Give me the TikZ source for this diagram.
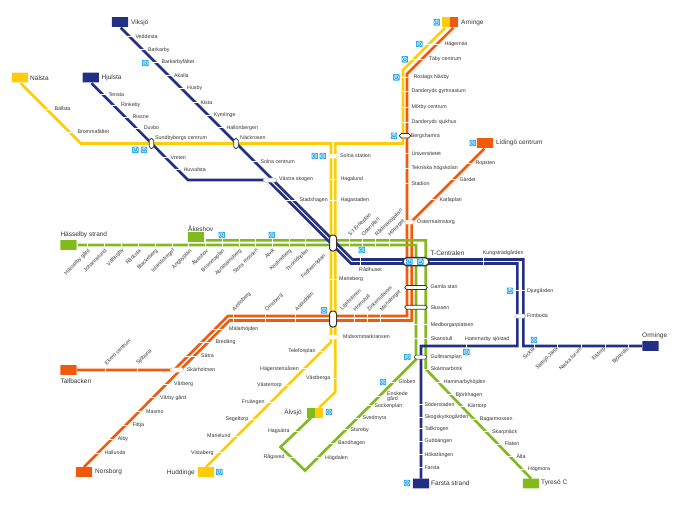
\documentclass[tikz,border=0pt]{standalone}
\usepackage{fontspec}
\setmainfont{Liberation Sans}

\definecolor{metroblue}{HTML}{232F84}
\definecolor{metroyellow}{HTML}{FFCC0A}
\definecolor{metroorange}{HTML}{EF5A0C}
\definecolor{metrogreen}{HTML}{82BA1E}
\definecolor{iconblue}{HTML}{2DA9EC}
\definecolor{labgray}{HTML}{333333}

\tikzset{
  metro/.style={line width=2.6,line join=miter,shorten <=1pt},
  tick/.style={draw=white,line width=1},
  lab/.style={anchor=west,inner sep=0,text=labgray,font=\fontsize{5.3}{5.5}\selectfont},
  labl/.style={lab,anchor=east},
  rotup/.style={lab,rotate=45},
  rotdown/.style={lab,rotate=45,anchor=north east},
  termlab/.style={lab,font=\fontsize{6.5}{7}\selectfont},
  term/.style={inner sep=0,minimum width=16.3,minimum height=9.6,rounded corners=.4},
  halfterm/.style={inner sep=0,minimum width=8.15,minimum height=9.6},
  hub/.style={draw=labgray,fill=white,inner sep=0,line width=.7,rounded corners=1.9},
  halo/.style={draw=#1!35!white,fill=white,inner sep=0,line width=.5,rounded corners=1.9},
  pendel/.style={fill=iconblue,text=white,inner sep=0,minimum size=6.4,rounded corners=.5,
    font=\fontsize{3.4}{3.4}\selectfont\bfseries,
    path picture={\draw[white,line width=.4] (path picture bounding box.center) circle (2.3);}}
}

\begin{document}
\begin{tikzpicture}[x=1pt,y=-1pt]
  \useasboundingbox (0,0) rectangle (700,504);

  % end stations
  \node[term,fill=metroblue] (viksjo) at (120,22) {};
  \node[term,fill=metroblue] (hjulsta) at (90.8,77.5) {};
  \node[term,fill=metroyellow] (nalsta) at (20,77.5) {};
  \node[halfterm,fill=metroyellow] (arningey) at (446,22) {};
  \node[halfterm,fill=metroorange] (arningeo) at (454.1,22) {};
  \node[term,fill=metroorange] (lidingo) at (485,143) {};
  \node[term,fill=metrogreen] (hasselby) at (68.5,245) {};
  \node[term,fill=metrogreen] (akeshovend) at (196,237) {};
  \node[term,fill=metroorange] (tallbacken) at (68.5,370) {};
  \node[term,fill=metroorange] (norsborg) at (84,472) {};
  \node[term,fill=metroyellow] (huddinge) at (206,472) {};
  \node[halfterm,fill=metrogreen] (alvsjog) at (311,412.7) {};
  \node[halfterm,fill=metroyellow] (alvsjoy) at (319.1,412.7) {};
  \node[term,fill=metroblue] (farstastrand) at (421,483.5) {};
  \node[term,fill=metrogreen] (tyreso) at (531,483.5) {};
  \node[term,fill=metroblue] (orminge) at (650.5,346) {};

  % bends
  \coordinate (nalstabend) at (81,143.5);
  \coordinate (solnay) at (331,143.5);
  \coordinate (hornsy) at (331,342);
  \coordinate (arningeybend) at (403,70);
  \coordinate (bergsy) at (403,143.5);
  \coordinate (solnaz) at (335.3,143.5);
  \coordinate (vastbergaz) at (335.3,392);
  \coordinate (arningeobend) at (407,74);
  \coordinate (orangea) at (407,316);
  \coordinate (orangeb) at (228,316);
  \coordinate (orangec) at (174,370);
  \coordinate (lidingobend) at (411.7,221.3);
  \coordinate (oranged) at (411.7,320.5);
  \coordinate (orangee) at (229.5,320.5);
  \coordinate (greena) at (416,245);
  \coordinate (greenb) at (416,359.5);
  \coordinate (greenc) at (305,470.5);
  \coordinate (greend) at (280.5,447);
  \coordinate (greene) at (425.7,240.3);
  \coordinate (greenf) at (425.7,369);
  \coordinate (bluea) at (352.5,259.5);
  \coordinate (blueb) at (523.3,259.5);
  \coordinate (bluec) at (523.3,346);
  \coordinate (bluee) at (188,180);
  \coordinate (bluef) at (267.4,180);
  \coordinate (blueg) at (351,263.5);
  \coordinate (blueh) at (517.3,263.5);
  \coordinate (bluei) at (517.3,346);
  \coordinate (bluej) at (421,346);

  % lines
  \draw[metro,metroyellow] (nalsta.south) -- (nalstabend) -- (solnay) -- (hornsy) -- (huddinge.north);
  \draw[metro,metroyellow] (arningey.south) -- (arningeybend) -- (bergsy) -- (solnaz) -- (vastbergaz) -- (alvsjoy.north);
  \draw[metro,metroorange] (arningeo.south) -- (arningeobend) -- (orangea) -- (orangeb) -- (orangec) -- (tallbacken.east);
  \draw[metro,metroorange] (lidingo.south) -- (lidingobend) -- (oranged) -- (orangee) -- (norsborg.north);
  \draw[metro,metrogreen] (hasselby.east) -- (greena) -- (greenb) -- (greenc) -- (greend) -- (alvsjog.south);
  \draw[metro,metrogreen] (akeshovend.east |- greene) -- (greene) -- (greenf) -- (tyreso.north);
  \draw[metro,metroblue] (viksjo.south) -- (bluea) -- (blueb) -- (bluec) -- (orminge.west);
  \draw[metro,metroblue] (hjulsta.south) -- (bluee) -- (bluef) -- (blueg) -- (blueh) -- (bluei) -- (bluej) -- (farstastrand.north);

  % blue line, north
  \draw[tick] (127,36.7) -- (135,36.7) node[lab] (veddesta) {Veddesta};
  \draw[tick] (140,49.7) -- (147.7,49.7) node[lab] (barkarby) {Barkarby};
  \draw[tick] (152.5,62.3) -- (161,62.3) node[lab] (barkarbyfaltet) {Barkarbyfältet};
  \draw[tick] (166,75.7) -- (173.7,75.7) node[lab] (akalla) {Akalla};
  \draw[tick] (178.5,88.3) -- (186.7,88.3) node[lab] (husby) {Husby};
  \draw[tick] (192.5,102.3) -- (200,102.3) node[lab] (kista) {Kista};
  \draw[tick] (205,115) -- (213.3,115) node[lab] (kymlinge) {Kymlinge};
  \draw[tick] (218,127.7) -- (226,127.7) node[lab] (hallonbergen) {Hallonbergen};
  \draw[tick] (99.5,94.3) -- (108,94.3) node[lab] (tensta) {Tensta};
  \draw[tick] (110.5,105.3) -- (120.7,105.3) node[lab] (rinkeby) {Rinkeby};
  \draw[tick] (122,117) -- (132,117) node[lab] (rissne) {Rissne};
  \draw[tick] (133,128) -- (143.3,128) node[lab] (duvbo) {Duvbo};
  \draw[tick] (162.5,157.3) -- (170,157.3) node[lab] (vreten) {Vreten};
  \draw[tick] (174.5,169.3) -- (183,169.3) node[lab] (huvudsta) {Huvudsta};
  \draw[tick] (251.5,161.3) -- (260,161.3) node[lab] (solnacentrum) {Solna centrum};
  \draw[tick] (284.5,200) -- (299,200) node[lab] (stadshagen) {Stadshagen};
  \draw[tick] (360,257) -- (360,266);
  \node[lab] (radhuset) at (359,269.5) {Rådhuset};
  \draw[tick] (483,257) -- (483,266);
  \node[lab] (kungstradgarden) at (482.7,253.3) {Kungsträdgården};
  \draw[tick] (514,290.7) -- (526.5,290.7) node[lab] (djurgarden) {Djurgården};

  % blue line, east and south
  \draw[tick] (466,342) -- (466,350);
  \node[lab] (hammarby) at (465,338.7) {Hammarby sjöstad};
  \draw[tick] (534,342) -- (534,348) node[rotdown,anchor=east] (sickla) {Sickla};
  \draw[tick] (557.7,342) -- (557.7,348) node[rotdown,anchor=east] (saltsjo) {Saltsjö-Järla};
  \draw[tick] (581.3,342) -- (581.3,348) node[rotdown,anchor=east] (nacka) {Nacka forum};
  \draw[tick] (605,342) -- (605,348) node[rotdown,anchor=east] (eiktorp) {Eiktorp};
  \draw[tick] (628.3,342) -- (628.3,348) node[rotdown,anchor=east] (bjorknas) {Björknäs};
  \draw[tick] (418,404.3) -- (424,404.3) node[lab] (soderstaden) {Söderstaden};
  \draw[tick] (418,417) -- (424,417) node[lab] (skogskyrkogarden) {Skogskyrkogården};
  \draw[tick] (418,428.7) -- (424,428.7) node[lab] (tallkrogen) {Tallkrogen};
  \draw[tick] (418,441.3) -- (424,441.3) node[lab] (gubbangen) {Gubbängen};
  \draw[tick] (418,454.7) -- (424,454.7) node[lab] (hokarangen) {Hökarängen};
  \draw[tick] (418,467.3) -- (424,467.3) node[lab] (farsta) {Farsta};

  % yellow lines
  \draw[tick] (44,109) -- (54,109) node[lab] (ballsta) {Bällsta};
  \draw[tick] (67,132) -- (77,132) node[lab] (brommafaltet) {Brommafältet};
  \draw[tick] (328,179) -- (340,179) node[lab] (hagalund) {Hagalund};
  \draw[tick] (328,200.3) -- (340,200.3) node[lab] (hagastaden) {Hagastaden};
  \draw[tick] (328,279) -- (338.7,279) node[lab] (marieberg) {Marieberg};
  \draw[tick] (425,44) -- (444,44) node[lab] (hagernas) {Hägernäs};
  \draw[tick] (410,59.3) -- (428.3,59.3) node[lab] (taby) {Täby centrum};
  \draw[tick] (400,77.3) -- (413,77.3) node[lab] (roslags) {Roslags Näsby};
  \draw[tick] (400,91.3) -- (411,91.3) node[lab] (gymnasium) {Danderyds gymnasium};
  \draw[tick] (400,107) -- (411,107) node[lab] (morby) {Mörby centrum};
  \draw[tick] (400,122) -- (411,122) node[lab] (sjukhus) {Danderyds sjukhus};
  \draw[tick] (325,351.3) -- (316,351.3) node[labl] (telefonplan) {Telefonplan};
  \draw[tick] (307.5,368.7) -- (299.3,368.7) node[labl] (hagerstensasen) {Hägerstensåsen};
  \draw[tick] (290.5,385.7) -- (282,385.7) node[labl] (vastertorp) {Västertorp};
  \draw[tick] (274,402.3) -- (265,402.3) node[labl] (fruangen) {Fruängen};
  \draw[tick] (257,419.3) -- (248.7,419.3) node[labl] (segeltorp) {Segeltorp};
  \draw[tick] (240,436) -- (231,436) node[labl] (marielund) {Marielund};
  \draw[tick] (223.5,452.7) -- (214,452.7) node[labl] (vistaberg) {Vistaberg};
  \draw[tick] (339,378.3) -- (330.7,378.3) node[labl] (vastberga) {Västberga};

  % orange lines
  \draw[tick] (404.5,153.3) -- (411,153.3) node[lab] (universitetet) {Universitetet};
  \draw[tick] (404.5,168.3) -- (411,168.3) node[lab] (tekniska) {Tekniska högskolan};
  \draw[tick] (404.5,183.3) -- (411,183.3) node[lab] (stadion) {Stadion};
  \draw[tick] (466,163.7) -- (475,163.7) node[lab] (ropsten) {Ropsten};
  \draw[tick] (450.5,179.3) -- (459,179.3) node[lab] (gardet) {Gärdet};
  \draw[tick] (430,199.7) -- (439,199.7) node[lab] (karlaplan) {Karlaplan};
  \draw[tick] (233,323.5) -- (233,310.5) node[rotup] (axelsberg) {Axelsberg};
  \draw[tick] (265.7,323.5) -- (265.7,310.5) node[rotup] (ornsberg) {Örnsberg};
  \draw[tick] (295.7,323.5) -- (295.7,310.5) node[rotup] (aspudden) {Aspudden};
  \draw[tick] (354,323.5) -- (354,310.5) node[rotup] (hornstull) {Hornstull};
  \draw[tick] (367.3,323.5) -- (367.3,310.5) node[rotup] (zinkensdamm) {Zinkensdamm};
  \draw[tick] (380.7,323.5) -- (380.7,310.5) node[rotup] (mariatorget) {Mariatorget};
  \draw[tick] (212,329) -- (228.7,329) node[lab] (malarhojden) {Mälarhöjden};
  \draw[tick] (198.5,342.3) -- (215,342.3) node[lab] (bredang) {Bredäng};
  \draw[tick] (185,356) -- (200.7,356) node[lab] (satra) {Sätra};
  \draw[tick] (163,384) -- (173.7,384) node[lab] (varberg) {Vårberg};
  \draw[tick] (149.5,397.7) -- (159.7,397.7) node[lab] (varby) {Vårby gård};
  \draw[tick] (135.5,411.3) -- (145.7,411.3) node[lab] (masmo) {Masmo};
  \draw[tick] (121.5,425.3) -- (132,425.3) node[lab] (fittja) {Fittja};
  \draw[tick] (108,439) -- (117.3,439) node[lab] (alby) {Alby};
  \draw[tick] (94,453) -- (104,453) node[lab] (hallunda) {Hallunda};
  \draw[tick] (105.3,373) -- (105.3,364.3) node[rotup] (ekero) {Ekerö centrum};
  \draw[tick] (137,373) -- (137,364.3) node[rotup] (sjobuna) {Sjöbuna};

  % green lines, west
  \draw[tick] (87.3,242) -- (87.3,247.5) node[rotdown] (hasselbygard) {Hässelby gård};
  \draw[tick] (104.3,242) -- (104.3,247.5) node[rotdown] (johannelund) {Johannelund};
  \draw[tick] (121.3,242) -- (121.3,247.5) node[rotdown] (vallingby) {Vällingby};
  \draw[tick] (138.3,242) -- (138.3,247.5) node[rotdown] (racksta) {Råcksta};
  \draw[tick] (155.3,242) -- (155.3,247.5) node[rotdown] (blackeberg) {Blackeberg};
  \draw[tick] (172,242) -- (172,247.5) node[rotdown] (islandstorget) {Islandstorget};
  \draw[tick] (188.7,242.5) -- (188.7,247.5) node[rotdown] (angbyplan) {Ängbyplan};
  \draw[tick] (205.3,238) -- (205.3,247.5) node[rotdown] (akeshovst) {Åkeshov};
  \draw[tick] (222,238) -- (222,247.5) node[rotdown] (brommaplan) {Brommaplan};
  \draw[tick] (239,238) -- (239,247.5) node[rotdown] (abrahamsberg) {Abrahamsberg};
  \draw[tick] (255.7,238) -- (255.7,247.5) node[rotdown] (storamossen) {Stora mossen};
  \draw[tick] (272.3,238) -- (272.3,247.5) node[rotdown] (alvik) {Alvik};
  \draw[tick] (289,238) -- (289,247.5) node[rotdown] (kristineberg) {Kristineberg};
  \draw[tick] (305.7,238) -- (305.7,247.5) node[rotdown] (thorildsplan) {Thorildsplan};
  \node[rotdown] (fridhemsplanlab) at (323,253) {Fridhemsplan};
  \draw[tick] (349,247.5) -- (349,235.5) node[rotup] (steriksplan) {S:t Eriksplan};
  \draw[tick] (362.3,247.5) -- (362.3,235.5) node[rotup] (odenplan) {Odenplan};
  \draw[tick] (375.7,247.5) -- (375.7,235.5) node[rotup] (radmansgatan) {Rådmansgatan};
  \draw[tick] (389,247.5) -- (389,235.5) node[rotup] (hotorget) {Hötorget};

  % green lines, south
  \draw[tick] (413.5,324.7) -- (430.3,324.7) node[lab] (medborgarplatsen) {Medborgarplatsen};
  \draw[tick] (413.5,338.3) -- (430.3,338.3) node[lab] (skanstull) {Skanstull};
  \draw[tick] (423,369) -- (430.3,369) node[lab] (skarmarbrink) {Skärmarbrink};
  \draw[tick] (435,382) -- (443.3,382) node[lab] (hammarbyhojden) {Hammarbyhöjden};
  \draw[tick] (447,394.7) -- (455,394.7) node[lab] (bjorkhagen) {Björkhagen};
  \draw[tick] (459,406.7) -- (467,406.7) node[lab] (karrtorp) {Kärrtorp};
  \draw[tick] (471,419.3) -- (479.3,419.3) node[lab] (bagarmossen) {Bagarmossen};
  \draw[tick] (483,431.7) -- (491.7,431.7) node[lab] (skarpnack) {Skarpnäck};
  \draw[tick] (495,444) -- (504,444) node[lab] (flaten) {Flaten};
  \draw[tick] (506.5,456.3) -- (516,456.3) node[lab] (alta) {Älta};
  \draw[tick] (518.5,469) -- (527.7,469) node[lab] (hogmora) {Högmora};
  \draw[tick] (390,382) -- (398,382) node[lab] (globen) {Globen};
  \draw[tick] (375.5,396.7) -- (386.7,396.7) node[lab,align=left] (enskede) {Enskede\\gård};
  \draw[tick] (366.5,405.7) -- (374,405.7) node[lab] (sockenplan) {Sockenplan};
  \draw[tick] (354,418) -- (362,418) node[lab] (svedmyra) {Svedmyra};
  \draw[tick] (342.5,429.7) -- (350,429.7) node[lab] (stureby) {Stureby};
  \draw[tick] (329,443.3) -- (337.7,443.3) node[lab] (bandhagen) {Bandhagen};
  \draw[tick] (314.5,457.7) -- (324.7,457.7) node[lab] (hogdalen) {Högdalen};
  \draw[tick] (299.5,431.3) -- (290,431.3) node[labl] (hagsatra) {Hagsätra};
  \draw[tick] (294.5,457.3) -- (285,457.3) node[labl] (ragsved) {Rågsved};

  % interchanges
  \node[hub,minimum width=4.6,minimum height=10] (sundbyberg) at (151.5,143.5) {};
  \node[hub,minimum width=4.6,minimum height=10] (nackrosen) at (236,143.5) {};
  \node[halo=metroyellow,minimum width=11,minimum height=4] (solnastation) at (333.5,156) {};
  \node[halo=metroblue,minimum width=14,minimum height=4] (vastraskogen) at (270,180) {};
  \node[hub,minimum width=11,minimum height=4.6] (bergshamra) at (405,135.7) {};
  \node[halo=metroorange,minimum width=10.3,minimum height=4] (ostermalmstorg) at (409.2,222) {};
  \node[hub,line width=1,rounded corners=3,minimum width=7,minimum height=16] (fridhemsplan) at (333,243) {};
  \node[hub,line width=1,rounded corners=3,minimum width=7,minimum height=16] (liljeholmen) at (333,319) {};
  \node[hub,line width=1.3,rounded corners=4,minimum width=26,minimum height=8.2] (tcentralen) at (416,261.7) {};
  \node[hub,minimum width=22.6,minimum height=4] (gamlastan) at (416,287.5) {};
  \node[hub,minimum width=22.6,minimum height=4] (slussen) at (416,307.3) {};
  \node[hub,line width=.5,minimum width=13,minimum height=4] (gullmarsplan) at (420.5,357) {};
  \node[halo=metroblue,minimum width=11,minimum height=4] (fimboda) at (520.2,316) {};
  \node[halo=metroyellow,minimum width=12.6,minimum height=4] (midsommarkransen) at (333,337) {};
  \node[halo=metroorange,minimum width=14,minimum height=4.4] (skarholmen) at (177,370) {};

  % interchange names
  \node[lab] (sundbyberglab) at (155,138) {Sundbybergs centrum};
  \node[lab] (nackrosenlab) at (240,138) {Näckrosen};
  \node[lab] (solnastationlab) at (340,156) {Solna station};
  \node[lab] (vastraskogenlab) at (279,179) {Västra skogen};
  \node[lab] (bergshamralab) at (410.7,135.7) {Bergshamra};
  \node[lab] (ostermalmstorglab) at (417,222) {Östermalmstorg};
  \node[rotup] (liljeholmenlab) at (341.3,309.7) {Liljeholmen};
  \node[lab] (gamlastanlab) at (430.3,287) {Gamla stan};
  \node[lab] (slussenlab) at (430.3,307.3) {Slussen};
  \node[lab] (gullmarsplanlab) at (430.3,357) {Gullmarsplan};
  \node[lab] (fimbodalab) at (527,316) {Fimboda};
  \node[lab] (midsommarkransenlab) at (343,337) {Midsommarkransen};
  \node[lab] (skarholmenlab) at (186.7,370) {Skärholmen};

  % end station names
  \node[termlab] (viksjolab) at (131,23) {Viksjö};
  \node[termlab] (hjulstalab) at (101.5,78) {Hjulsta};
  \node[termlab] (nalstalab) at (30,78) {Nälsta};
  \node[termlab] (arningelab) at (461,22.5) {Arninge};
  \node[termlab] (lidingolab) at (496,143.3) {Lidingö centrum};
  \node[termlab] (hasselbylab) at (60.3,235.3) {Hässelby strand};
  \node[termlab] (akeshovlab) at (188,228.3) {Åkeshov};
  \node[termlab] (tcentralenlab) at (430.3,252.7) {T-Centralen};
  \node[termlab] (ormingelab) at (642,336) {Orminge};
  \node[termlab] (tallbackenlab) at (60.3,380.7) {Tallbacken};
  \node[termlab] (norsborglab) at (95,472) {Norsborg};
  \node[termlab,anchor=east] (huddingelab) at (195,472.7) {Huddinge};
  \node[termlab,anchor=east] (alvsjolab) at (302,412.5) {Älvsjö};
  \node[termlab] (farstastrandlab) at (431,483.3) {Farsta strand};
  \node[termlab] (tyresolab) at (541,483) {Tyresö C};

  % train icons
  \node[pendel] (sbarkarby) at (145.3,63) {S};
  \node[pendel] (jsundbyberg) at (135.3,149.7) {J};
  \node[pendel] (ssundbyberg) at (144,149.7) {S};
  \node[pendel] (jsolna) at (314.7,156) {J};
  \node[pendel] (ssolna) at (322.7,156) {S};
  \node[pendel] (sarninge) at (436.7,22.3) {S};
  \node[pendel] (shagernas) at (419.3,44) {S};
  \node[pendel] (staby) at (404.7,59.3) {S};
  \node[pendel] (sroslags) at (396.3,77.3) {S};
  \node[pendel] (sbergshamra) at (394,135.7) {S};
  \node[pendel] (slidingo) at (472.7,143) {S};
  \node[pendel] (sbromma) at (221.7,235) {S};
  \node[pendel] (salvik) at (271.7,235) {S};
  \node[pendel] (sliljeholmen) at (324,310.3) {S};
  \node[pendel] (jradhuset) at (361.7,250) {J};
  \node[pendel] (jcentral) at (409.3,261.7) {J};
  \node[pendel] (scentral) at (420.3,261.7) {S};
  \node[pendel] (sgullmarsplan) at (407.3,357) {S};
  \node[pendel] (sglobe) at (383,382) {S};
  \node[pendel] (shammarby) at (466.3,352) {S};
  \node[pendel] (sdjurgarden) at (510,290.7) {S};
  \node[pendel] (ssickla) at (534,340) {S};
  \node[pendel] (jhuddinge) at (219.3,472) {J};
  \node[pendel] (jalvsjo) at (329,412) {J};
  \node[pendel] (jfarsta) at (407,483) {J};
\end{tikzpicture}
\end{document}
